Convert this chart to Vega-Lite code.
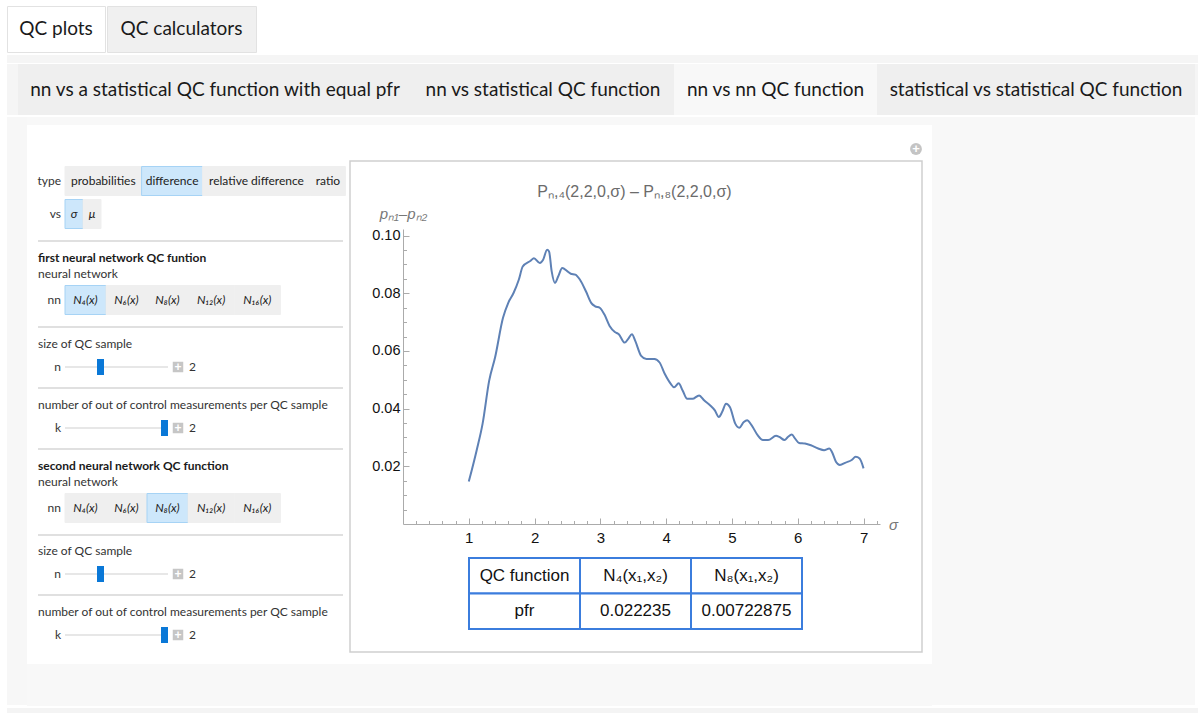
{
  "$schema": "https://vega.github.io/schema/vega-lite/v6.json",
  "background": "white",
  "padding": {"left": 6, "top": 5, "right": 0, "bottom": 0},
  "spacing": 0,
  "config": {"view": {"stroke": null}, "concat": {"spacing": 0}},
  "vconcat": [
    {
      "spacing": 0,
      "hconcat": [
        {"width": 98, "height": 46, "data": {"values": [{"t": "QC plots"}]}, "mark": {"type": "text", "font": "Lato", "fontSize": 19, "color": "#1a1a1a"}, "encoding": {"text": {"field": "t"}}, "view": {"fill": "#ffffff", "stroke": "#e2e2e2"}},
        {"width": 149, "height": 46, "data": {"values": [{"t": "QC calculators"}]}, "mark": {"type": "text", "font": "Lato", "fontSize": 19, "color": "#1a1a1a"}, "encoding": {"text": {"field": "t"}}, "view": {"fill": "#f0f0f0", "stroke": "#e2e2e2"}}
      ]
    },
    {"width": 1191, "height": 8, "data": {"values": [{}]}, "mark": "text", "encoding": {"text": {"value": ""}}, "view": {"fill": "#f5f5f5", "stroke": null}},
    {
      "spacing": 0,
      "hconcat": [
        {"width": 11, "height": 51, "data": {"values": [{}]}, "mark": "text", "encoding": {"text": {"value": ""}}, "view": {"fill": "#f5f5f5", "stroke": null}},
        {"width": 394, "height": 51, "data": {"values": [{"t": "nn vs a statistical QC function with equal pfr"}]}, "mark": {"type": "text", "font": "Lato", "fontSize": 19, "color": "#1a1a1a"}, "encoding": {"text": {"field": "t"}}, "view": {"fill": "#efefef", "stroke": null}},
        {"width": 262, "height": 51, "data": {"values": [{"t": "nn vs statistical QC function"}]}, "mark": {"type": "text", "font": "Lato", "fontSize": 19, "color": "#1a1a1a"}, "encoding": {"text": {"field": "t"}}, "view": {"fill": "#efefef", "stroke": null}},
        {"width": 203, "height": 51, "data": {"values": [{"t": "nn vs nn QC function"}]}, "mark": {"type": "text", "font": "Lato", "fontSize": 19, "color": "#1a1a1a"}, "encoding": {"text": {"field": "t"}}, "view": {"fill": "#f8f8f8", "stroke": null}},
        {"width": 318, "height": 51, "data": {"values": [{"t": "statistical vs statistical QC function"}]}, "mark": {"type": "text", "font": "Lato", "fontSize": 19, "color": "#1a1a1a"}, "encoding": {"text": {"field": "t"}}, "view": {"fill": "#efefef", "stroke": null}},
        {"width": 3, "height": 51, "data": {"values": [{}]}, "mark": "text", "encoding": {"text": {"value": ""}}, "view": {"fill": "#f5f5f5", "stroke": null}}
      ]
    },
    {
      "spacing": 0,
      "hconcat": [
        {"width": 20, "height": 588, "data": {"values": [{}]}, "mark": "text", "encoding": {"text": {"value": ""}}, "view": {"fill": "#f7f7f7", "stroke": null}},
        {
          "spacing": 0,
          "vconcat": [
            {"width": 905, "height": 8, "data": {"values": [{}]}, "mark": "text", "encoding": {"text": {"value": ""}}, "view": {"fill": "#f8f8f8", "stroke": null}},
            {
              "bounds": "flush", "spacing": 53,
              "hconcat": [
                {
                  "width": 323, "height": 538,
                  "view": {"fill": "#ffffff", "stroke": null},
                  "encoding": {
                    "y": {"field": "line", "type": "quantitative", "axis": null,
                      "scale": {"domain": [0,1,2,3,4,5,6,7,8,9,10,11,12,13,14,15,16,17,18,19,20,21],
                                "range": [55,88,115,132,148,174,201,218,241,262,279,302,323,340,356,382,409,425,448,469,486,509]}}
                  },
                  "layer": [
                    {
                      "data": {"values": [{"line": 2},{"line": 6},{"line": 9},{"line": 12},{"line": 16},{"line": 19}]},
                      "mark": {"type": "rule", "color": "#d6d6d6", "strokeWidth": 1.5},
                      "encoding": {
                        "x": {"datum": -27, "type": "quantitative", "axis": null, "scale": {"domain": [-38, 285], "nice": false, "zero": false}},
                        "x2": {"datum": 278}
                      }
                    },
                    {
                      "data": {"values": [
                        {"line": 0, "group": "type", "order": 1, "label": "probabilities", "selected": false},
                        {"line": 0, "group": "type", "order": 2, "label": "difference", "selected": true},
                        {"line": 0, "group": "type", "order": 3, "label": "relative difference", "selected": false},
                        {"line": 0, "group": "type", "order": 4, "label": "ratio", "selected": false},
                        {"line": 1, "group": "vs", "order": 1, "label": "σ", "selected": true},
                        {"line": 1, "group": "vs", "order": 2, "label": "μ", "selected": false},
                        {"line": 5, "group": "nn", "order": 1, "label": "N₄(x)", "selected": true},
                        {"line": 5, "group": "nn", "order": 2, "label": "N₆(x)", "selected": false},
                        {"line": 5, "group": "nn", "order": 3, "label": "N₈(x)", "selected": false},
                        {"line": 5, "group": "nn", "order": 4, "label": "N₁₂(x)", "selected": false},
                        {"line": 5, "group": "nn", "order": 5, "label": "N₁₆(x)", "selected": false},
                        {"line": 15, "group": "nn", "order": 1, "label": "N₄(x)", "selected": false},
                        {"line": 15, "group": "nn", "order": 2, "label": "N₆(x)", "selected": false},
                        {"line": 15, "group": "nn", "order": 3, "label": "N₈(x)", "selected": true},
                        {"line": 15, "group": "nn", "order": 4, "label": "N₁₂(x)", "selected": false},
                        {"line": 15, "group": "nn", "order": 5, "label": "N₁₆(x)", "selected": false}
                      ]},
                      "transform": [
                        {"calculate": "max(18, 5.2*length(datum.label) + (datum.group === 'nn' ? 15 : 9))", "as": "w"},
                        {"window": [{"op": "sum", "field": "w", "as": "xe"}], "groupby": ["line"], "sort": [{"field": "order"}], "frame": [null, 0]},
                        {"calculate": "datum.xe - datum.w", "as": "xs"},
                        {"calculate": "datum.xs + datum.w / 2", "as": "xm"}
                      ],
                      "layer": [
                        {
                          "mark": {"type": "rect", "yOffset": -14.5, "y2Offset": 14.5, "strokeWidth": 1},
                          "encoding": {
                            "x": {"field": "xs", "type": "quantitative", "axis": null},
                            "x2": {"field": "xe"},
                            "y2": {"field": "line"},
                            "fill": {"condition": {"test": "datum.selected", "value": "#cde7fb"}, "value": "#efefef"},
                            "stroke": {"condition": {"test": "datum.selected", "value": "#a6d3f5"}, "value": "#efefef"}
                          }
                        },
                        {
                          "transform": [{"filter": "datum.group === 'type'"}],
                          "mark": {"type": "text", "font": "Lato", "fontSize": 12, "color": "#222222"},
                          "encoding": {"x": {"field": "xm", "type": "quantitative", "axis": null}, "text": {"field": "label"}}
                        },
                        {
                          "transform": [{"filter": "datum.group !== 'type'"}],
                          "mark": {"type": "text", "font": "Lato", "fontSize": 12, "fontStyle": "italic", "color": "#222222"},
                          "encoding": {"x": {"field": "xm", "type": "quantitative", "axis": null}, "text": {"field": "label"}}
                        }
                      ]
                    },
                    {
                      "data": {"values": [
                        {"line": 0, "label": "type"}, {"line": 1, "label": "vs"}, {"line": 5, "label": "nn"}, {"line": 15, "label": "nn"},
                        {"line": 8, "label": "n"}, {"line": 11, "label": "k"}, {"line": 18, "label": "n"}, {"line": 21, "label": "k"}
                      ]},
                      "mark": {"type": "text", "font": "Lato", "fontSize": 12, "color": "#333333", "align": "right"},
                      "encoding": {"x": {"datum": -4, "type": "quantitative", "axis": null}, "text": {"field": "label"}}
                    },
                    {
                      "data": {"values": [
                        {"line": 4, "text": "neural network"},
                        {"line": 7, "text": "size of QC sample"},
                        {"line": 10, "text": "number of out of control measurements per QC sample"},
                        {"line": 14, "text": "neural network"},
                        {"line": 17, "text": "size of QC sample"},
                        {"line": 20, "text": "number of out of control measurements per QC sample"}
                      ]},
                      "mark": {"type": "text", "font": "Lato", "fontSize": 12, "color": "#333333", "align": "left"},
                      "encoding": {"x": {"datum": -27, "type": "quantitative", "axis": null}, "text": {"field": "text"}}
                    },
                    {
                      "data": {"values": [
                        {"line": 3, "text": "first neural network QC funtion"},
                        {"line": 13, "text": "second neural network QC function"}
                      ]},
                      "mark": {"type": "text", "font": "Lato", "fontSize": 12, "fontWeight": "bold", "color": "#1a1a1a", "align": "left"},
                      "encoding": {"x": {"datum": -27, "type": "quantitative", "axis": null}, "text": {"field": "text"}}
                    },
                    {
                      "data": {"values": [
                        {"line": 8, "name": "n", "value": 2, "min": 1, "max": 4},
                        {"line": 11, "name": "k", "value": 2, "min": 1, "max": 2},
                        {"line": 18, "name": "n", "value": 2, "min": 1, "max": 4},
                        {"line": 21, "name": "k", "value": 2, "min": 1, "max": 2}
                      ]},
                      "transform": [{"calculate": "3.5 + 96 * (datum.value - datum.min) / (datum.max - datum.min)", "as": "pos"}],
                      "layer": [
                        {"mark": {"type": "rule", "color": "#cfcfcf", "strokeWidth": 1.2}, "encoding": {"x": {"datum": 0, "type": "quantitative", "axis": null}, "x2": {"datum": 103}}},
                        {"mark": {"type": "rect", "xOffset": -3.5, "x2Offset": 3.5, "yOffset": -8, "y2Offset": 8, "color": "#0a78d7"}, "encoding": {"x": {"field": "pos", "type": "quantitative", "axis": null}, "x2": {"field": "pos"}, "y2": {"field": "line"}}},
                        {"mark": {"type": "square", "size": 110, "color": "#c6c6c6", "filled": true, "opacity": 1}, "encoding": {"x": {"datum": 113, "type": "quantitative", "axis": null}}},
                        {"mark": {"type": "text", "text": "+", "font": "Liberation Sans", "fontSize": 12, "fontWeight": "bold", "color": "#ffffff"}, "encoding": {"x": {"datum": 113, "type": "quantitative", "axis": null}}},
                        {"mark": {"type": "text", "font": "Lato", "fontSize": 12, "color": "#333333", "align": "left"}, "encoding": {"x": {"datum": 124, "type": "quantitative", "axis": null}, "text": {"field": "value"}}}
                      ]
                    }
                  ]
                },
                {
                  "width": 477, "height": 398,
                  "title": {"text": "Pₙ,₄(2,2,0,σ) – Pₙ,₈(2,2,0,σ)", "frame": "group", "font": "Liberation Sans", "fontSize": 16, "fontWeight": "normal", "color": "#6b6b6b", "offset": -74, "dx": -7},
                  "resolve": {"scale": {"x": "independent", "y": "independent"}, "axis": {"x": "independent", "y": "independent"}},
                  "layer": [
                    {
                      "data": {"values": [{}]},
                      "layer": [
                        {
                          "mark": {"type": "rect", "fillOpacity": 0, "stroke": "#cfcfcf", "strokeWidth": 1.5},
                          "encoding": {
                            "x": {"datum": -53, "type": "quantitative", "axis": null, "scale": {"domain": [0, 477], "range": [0, 477], "zero": false, "nice": false}},
                            "x2": {"datum": 519},
                            "y": {"datum": 35, "type": "quantitative", "axis": null, "scale": {"domain": [0, 398], "range": [0, 398], "zero": false, "nice": false}},
                            "y2": {"datum": 526}
                          }
                        },
                        {
                          "mark": {"type": "circle", "size": 140, "color": "#c4c4c4", "opacity": 1},
                          "encoding": {"x": {"datum": 513, "type": "quantitative", "axis": null}, "y": {"datum": 23, "type": "quantitative", "axis": null}}
                        },
                        {
                          "mark": {"type": "text", "text": "+", "font": "Liberation Sans", "fontSize": 13, "fontWeight": "bold", "color": "#ffffff"},
                          "encoding": {"x": {"datum": 513, "type": "quantitative", "axis": null}, "y": {"datum": 23, "type": "quantitative", "axis": null}}
                        }
                      ]
                    },
                    {
                      "data": {"values": [
                        {"sigma": 1.00, "diff": 0.0147}, {"sigma": 1.12, "diff": 0.0256}, {"sigma": 1.21, "diff": 0.0348}, {"sigma": 1.31, "diff": 0.0497},
                        {"sigma": 1.40, "diff": 0.0578}, {"sigma": 1.52, "diff": 0.0715}, {"sigma": 1.60, "diff": 0.0767}, {"sigma": 1.68, "diff": 0.0801},
                        {"sigma": 1.76, "diff": 0.0847}, {"sigma": 1.82, "diff": 0.0893}, {"sigma": 1.94, "diff": 0.0913}, {"sigma": 1.99, "diff": 0.0922},
                        {"sigma": 2.08, "diff": 0.0905}, {"sigma": 2.13, "diff": 0.0916}, {"sigma": 2.19, "diff": 0.0951}, {"sigma": 2.22, "diff": 0.0945},
                        {"sigma": 2.26, "diff": 0.0876}, {"sigma": 2.31, "diff": 0.0836}, {"sigma": 2.36, "diff": 0.0859}, {"sigma": 2.42, "diff": 0.0888},
                        {"sigma": 2.50, "diff": 0.0876}, {"sigma": 2.55, "diff": 0.0868}, {"sigma": 2.62, "diff": 0.0865}, {"sigma": 2.69, "diff": 0.0847},
                        {"sigma": 2.78, "diff": 0.0807}, {"sigma": 2.86, "diff": 0.0767}, {"sigma": 2.92, "diff": 0.0755}, {"sigma": 2.99, "diff": 0.0750},
                        {"sigma": 3.06, "diff": 0.0727}, {"sigma": 3.14, "diff": 0.0687}, {"sigma": 3.22, "diff": 0.0666}, {"sigma": 3.28, "diff": 0.0658},
                        {"sigma": 3.37, "diff": 0.0629}, {"sigma": 3.42, "diff": 0.0641}, {"sigma": 3.48, "diff": 0.0658}, {"sigma": 3.53, "diff": 0.0635},
                        {"sigma": 3.62, "diff": 0.0583}, {"sigma": 3.70, "diff": 0.0572}, {"sigma": 3.82, "diff": 0.0572}, {"sigma": 3.90, "diff": 0.0560},
                        {"sigma": 3.98, "diff": 0.0520}, {"sigma": 4.07, "diff": 0.0486}, {"sigma": 4.12, "diff": 0.0474}, {"sigma": 4.19, "diff": 0.0488},
                        {"sigma": 4.25, "diff": 0.0463}, {"sigma": 4.32, "diff": 0.0434}, {"sigma": 4.40, "diff": 0.0434}, {"sigma": 4.50, "diff": 0.0446},
                        {"sigma": 4.58, "diff": 0.0428}, {"sigma": 4.67, "diff": 0.0411}, {"sigma": 4.74, "diff": 0.0394}, {"sigma": 4.80, "diff": 0.0371},
                        {"sigma": 4.85, "diff": 0.0388}, {"sigma": 4.91, "diff": 0.0417}, {"sigma": 4.97, "diff": 0.0405}, {"sigma": 5.05, "diff": 0.0348},
                        {"sigma": 5.11, "diff": 0.0334}, {"sigma": 5.18, "diff": 0.0354}, {"sigma": 5.23, "diff": 0.0360}, {"sigma": 5.30, "diff": 0.0342},
                        {"sigma": 5.39, "diff": 0.0308}, {"sigma": 5.47, "diff": 0.0291}, {"sigma": 5.55, "diff": 0.0291}, {"sigma": 5.67, "diff": 0.0306},
                        {"sigma": 5.72, "diff": 0.0302}, {"sigma": 5.80, "diff": 0.0291}, {"sigma": 5.85, "diff": 0.0302}, {"sigma": 5.91, "diff": 0.0310},
                        {"sigma": 5.96, "diff": 0.0296}, {"sigma": 6.02, "diff": 0.0281}, {"sigma": 6.11, "diff": 0.0279}, {"sigma": 6.20, "diff": 0.0273},
                        {"sigma": 6.31, "diff": 0.0262}, {"sigma": 6.40, "diff": 0.0256}, {"sigma": 6.48, "diff": 0.0262}, {"sigma": 6.52, "diff": 0.0250},
                        {"sigma": 6.58, "diff": 0.0216}, {"sigma": 6.64, "diff": 0.0205}, {"sigma": 6.73, "diff": 0.0213}, {"sigma": 6.82, "diff": 0.0222},
                        {"sigma": 6.88, "diff": 0.0233}, {"sigma": 6.94, "diff": 0.0227}, {"sigma": 7.00, "diff": 0.0193}
                      ]},
                      "mark": {"type": "line", "color": "#5e81b5", "strokeWidth": 2, "interpolate": "monotone"},
                      "encoding": {
                        "x": {
                          "field": "sigma", "type": "quantitative",
                          "scale": {"domain": [0, 7.25], "nice": false, "zero": false},
                          "axis": {
                            "values": [0.2,0.4,0.6,0.8,1,1.2,1.4,1.6,1.8,2,2.2,2.4,2.6,2.8,3,3.2,3.4,3.6,3.8,4,4.2,4.4,4.6,4.8,5,5.2,5.4,5.6,5.8,6,6.2,6.4,6.6,6.8,7,7.2],
                            "labelExpr": "abs(datum.value - round(datum.value)) < 1e-6 ? format(datum.value, 'd') : ''",
                            "labelOverlap": false, "grid": false,
                            "domainColor": "#ababab", "tickColor": "#ababab",
                            "tickSize": {"condition": {"test": "abs(datum.value - round(datum.value)) < 1e-6", "value": -6}, "value": -3.5},
                            "labelFont": "Liberation Sans", "labelFontSize": 15, "labelColor": "#111111", "labelPadding": 12,
                            "title": "σ", "titleX": 490, "titleY": 0, "titleAlign": "center", "titleBaseline": "middle",
                            "titleFont": "Liberation Sans", "titleFontSize": 15, "titleFontStyle": "italic", "titleFontWeight": "normal", "titleColor": "#777777"
                          }
                        },
                        "y": {
                          "field": "diff", "type": "quantitative",
                          "scale": {"domain": [0, 0.1023], "nice": false, "range": [398, 103]},
                          "axis": {
                            "values": [0.005,0.01,0.015,0.02,0.025,0.03,0.035,0.04,0.045,0.05,0.055,0.06,0.065,0.07,0.075,0.08,0.085,0.09,0.095,0.1],
                            "labelExpr": "abs(datum.value*50 - round(datum.value*50)) < 1e-6 ? format(datum.value, '.2f') : ''",
                            "labelOverlap": false, "grid": false,
                            "domainColor": "#ababab", "tickColor": "#ababab",
                            "tickSize": {"condition": {"test": "abs(datum.value*50 - round(datum.value*50)) < 1e-6", "value": -6}, "value": -3.5},
                            "labelFont": "Liberation Sans", "labelFontSize": 14.5, "labelColor": "#111111", "labelPadding": 9,
                            "title": "pₙ₁–pₙ₂", "titleAngle": 0, "titleX": 0, "titleY": 95, "titleAlign": "center", "titleBaseline": "bottom",
                            "titleFont": "Liberation Sans", "titleFontSize": 15, "titleFontStyle": "italic", "titleFontWeight": "normal", "titleColor": "#777777"
                          }
                        }
                      }
                    },
                    {
                      "data": {"values": [
                        {"column": "QC function", "row": "header", "cell": "QC function"},
                        {"column": "N4", "row": "header", "cell": "N₄(x₁,x₂)"},
                        {"column": "N8", "row": "header", "cell": "N₈(x₁,x₂)"},
                        {"column": "QC function", "row": "pfr", "cell": "pfr"},
                        {"column": "N4", "row": "pfr", "cell": "0.022235"},
                        {"column": "N8", "row": "pfr", "cell": "0.00722875"}
                      ]},
                      "encoding": {
                        "x": {"field": "column", "type": "nominal", "sort": null, "axis": null, "scale": {"paddingInner": 0, "paddingOuter": 0, "range": [66, 399]}},
                        "y": {"field": "row", "type": "nominal", "sort": null, "axis": null, "scale": {"paddingInner": 0, "paddingOuter": 0, "range": [432, 503]}}
                      },
                      "layer": [
                        {"mark": {"type": "rect", "fill": "#ffffff", "stroke": "#3b7ddd", "strokeWidth": 2}},
                        {"mark": {"type": "text", "font": "Liberation Sans", "fontSize": 17, "color": "#111111"}, "encoding": {"text": {"field": "cell"}}}
                      ]
                    }
                  ]
                }
              ]
            },
            {"width": 905, "height": 42, "data": {"values": [{}]}, "mark": "text", "encoding": {"text": {"value": ""}}, "view": {"fill": "#f8f8f8", "stroke": null}}
          ]
        },
        {"width": 263, "height": 588, "data": {"values": [{}]}, "mark": "text", "encoding": {"text": {"value": ""}}, "view": {"fill": "#f8f8f8", "stroke": null}}
      ]
    },
    {"width": 1191, "height": 8, "data": {"values": [{}]}, "mark": "text", "encoding": {"text": {"value": ""}}, "view": {"fill": "#f4f4f4", "stroke": null}}
  ]
}
